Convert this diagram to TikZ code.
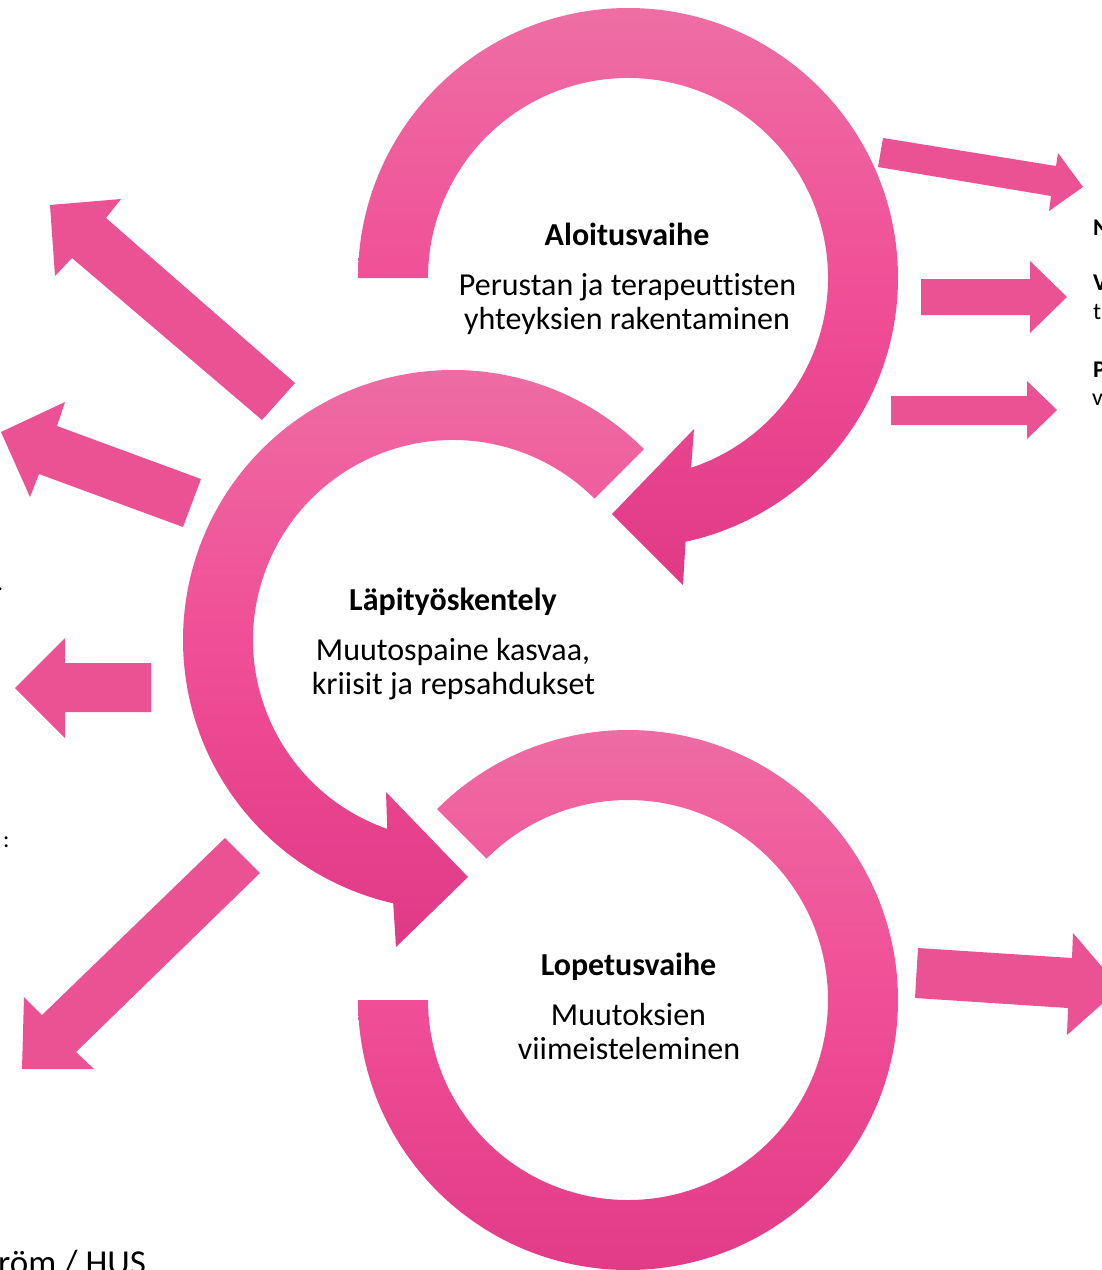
\documentclass[tikz,border=0pt]{standalone}
\usepackage{fontspec}
\setmainfont[Ligatures=NoCommon]{Carlito}
\definecolor{ringtop}{RGB}{238,110,164}
\definecolor{ringmid}{RGB}{240,78,150}
\definecolor{ringbot}{RGB}{224,58,134}
\definecolor{arrowc}{RGB}{234,82,148}
\begin{document}
\begin{tikzpicture}[x=1pt,y=1pt,
  ring/.style={top color=ringtop, bottom color=ringbot, middle color=ringmid, draw=none},
  blockarrow/.style={fill=arrowc, draw=none},
  title/.style={font=\fontsize{32}{38}\selectfont\bfseries, anchor=base, inner sep=0},
  body/.style={font=\fontsize{32}{38}\selectfont, anchor=base, inner sep=0},
  side/.style={font=\fontsize{24}{29}\selectfont, anchor=base west, inner sep=0},
  sidebold/.style={side, font=\fontsize{24}{29}\selectfont\bfseries},
]
\useasboundingbox (0,0) rectangle (1102,-1270);
\clip (0,0) rectangle (1102,-1270);

% top ring (Aloitusvaihe)
\begin{scope}[shift={(628,-278)}]
\shade[ring] (180:270) arc[start angle=180,end angle=-77.7,radius=270]
  -- (55,-307) -- (-16,-236) -- (66,-151) -- (-71.6:200)
  arc[start angle=-71.6,end angle=180,radius=200] -- cycle;
\end{scope}

% middle ring (Lapityoskentely)
\begin{scope}[shift={(453,-640)}]
\shade[ring] (45:270) arc[start angle=45,end angle=257.2,radius=270]
  -- (-57,-307) -- (15,-237) -- (-67,-152) -- (250.8:200)
  arc[start angle=250.8,end angle=45,radius=200] -- cycle;
\end{scope}

% bottom ring (Lopetusvaihe)
\begin{scope}[shift={(628,-1000)}]
\shade[ring] (135:270) arc[start angle=135,end angle=-180,radius=270]
  -- (-180:200) arc[start angle=-180,end angle=135,radius=200] -- cycle;
\end{scope}

% block arrows right
\fill[blockarrow] (883,-138) -- (1056,-166) -- (1058,-153) -- (1083,-187) -- (1049,-211) -- (1051,-196) -- (878,-167) -- cycle;
\fill[blockarrow] (921,-279) -- (1030,-279) -- (1030,-261) -- (1067,-297) -- (1030,-333) -- (1030,-315) -- (921,-315) -- cycle;
\fill[blockarrow] (891,-396) -- (1027,-396) -- (1027,-381) -- (1057,-410) -- (1027,-439) -- (1027,-425) -- (891,-425) -- cycle;
\fill[blockarrow] (918,-948) -- (1072,-958) -- (1073,-933) -- (1120,-988) -- (1067,-1035) -- (1068,-1008) -- (915,-998) -- cycle;

% block arrows left
\fill[blockarrow] (295,-383) -- (106,-218) -- (121,-199) -- (50,-205) -- (55,-276) -- (72,-258) -- (262,-420) -- cycle;
\fill[blockarrow] (201,-479) -- (57,-426) -- (65,-402) -- (1,-432) -- (30,-497) -- (39,-474) -- (183,-527) -- cycle;
\fill[blockarrow] (151,-663) -- (65,-663) -- (65,-638) -- (15,-688) -- (65,-738) -- (65,-712) -- (151,-712) -- cycle;
\fill[blockarrow] (225,-838) -- (42,-1015) -- (24,-997) -- (22,-1069) -- (94,-1069) -- (76,-1052) -- (260,-873) -- cycle;

% ring texts
\node[title] (t1) at (627,-245) {Aloitusvaihe};
\node[body] (b1a) at (627.5,-295) {Perustan ja terapeuttisten};
\node[body] (b1b) at (627,-329) {yhteyksien rakentaminen};
\node[title] (t2) at (453,-610) {Läpityöskentely};
\node[body] (b2a) at (453,-660) {Muutospaine kasvaa,};
\node[body] (b2b) at (453.5,-694) {kriisit ja repsahdukset};
\node[title] (t3) at (628.5,-975) {Lopetusvaihe};
\node[body] (b3a) at (628.5,-1025) {Muutoksien};
\node[body] (b3b) at (629,-1059) {viimeisteleminen};

% cut-off side texts (cut by the frame, as in the source)
\node[sidebold] (r1) at (1093,-235) {N};
\node[sidebold] (r2) at (1093,-290) {V};
\node[side] (r3) at (1093,-319) {t};
\node[sidebold] (r4) at (1093,-377) {P};
\node[side] (r5) at (1092,-405) {v};
\node[side] (l1) at (-3,-590) {.};
\node[side] (l2) at (3,-847) {:};
\node[font=\fontsize{35}{42}\selectfont, anchor=base west, inner sep=0] (src) at (-2,-1274) {röm / HUS};
\end{tikzpicture}
\end{document}
